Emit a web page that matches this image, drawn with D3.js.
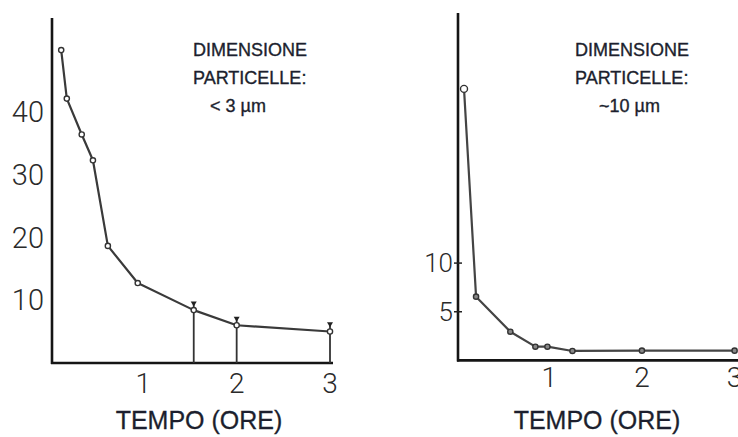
<!DOCTYPE html>
<html>
<head>
<meta charset="utf-8">
<script src="https://cdn.jsdelivr.net/npm/d3@7"></script>
<style>
  html, body { margin: 0; padding: 0; background: #fff; }
  svg { display: block; }
</style>
</head>
<body>
<svg id="chart" width="738" height="437"></svg>
<script>
// ---------- DATA ----------
// Left panel: particle size < 3 µm
const leftTime   = [0.12, 0.18, 0.34, 0.46, 0.62, 0.94, 1.54, 2.0, 3.0];
const leftValue  = [49.7, 42.0, 36.3, 32.2, 18.6, 12.7, 8.4, 6.0, 5.0];
const leftErrTime  = [1.54, 2.0, 3.0];
const leftErrUpper = [9.6, 7.2, 6.3];
const leftYTicks = [10, 20, 30, 40];
const leftXTicks = [1, 2, 3];
const leftNote   = ["DIMENSIONE", "PARTICELLE:", "< 3 µm"];

// Right panel: particle size ~10 µm
const rightTime  = [0.08, 0.21, 0.58, 0.85, 0.98, 1.25, 2.0, 3.0];
const rightValue = [27.9, 6.55, 2.95, 1.41, 1.41, 0.97, 1.0, 1.0];
const rightYTicks = [5, 10];
const rightXTicks = [1, 2, 3];
const rightNote  = ["DIMENSIONE", "PARTICELLE:", "~10 µm"];

const xTitle = "TEMPO (ORE)";

// ---------- DRAW ----------
const svg = d3.select("#chart");
const digitFont = "Roboto, 'DejaVu Sans', sans-serif";
const textFont = "'Liberation Sans', Arial, sans-serif";

function panel(cfg) {
  const x = d3.scaleLinear().domain([0, 3]).range(cfg.xRange);
  const y = d3.scaleLinear().domain(cfg.yDomain).range(cfg.yRange);
  const g = svg.append("g");

  // axes lines
  g.append("line")
    .attr("x1", cfg.axisX).attr("x2", cfg.axisX)
    .attr("y1", cfg.yRange[1]).attr("y2", y(0) + 1)
    .attr("stroke", "#151515").attr("stroke-width", 2.6);
  g.append("line")
    .attr("x1", cfg.axisX - 1).attr("x2", cfg.xAxisEnd)
    .attr("y1", y(0)).attr("y2", y(0))
    .attr("stroke", "#151515").attr("stroke-width", 2.6);

  // y tick labels
  g.selectAll(".ylab").data(cfg.yTicks).join("text")
    .attr("x", cfg.axisX - cfg.yLabelGap)
    .attr("y", d => y(d))
    .attr("dy", "0.36em")
    .attr("text-anchor", "end")
    .attr("font-family", digitFont)
    .attr("font-weight", 300)
    .attr("font-size", cfg.yFont)
    .attr("fill", "#2a2a2a")
    .text(d => d);

  if (cfg.yTickMarks) {
    g.selectAll(".ytick").data(cfg.yTicks).join("line")
      .attr("x1", cfg.axisX - 4).attr("x2", cfg.axisX + 4)
      .attr("y1", d => y(d)).attr("y2", d => y(d))
      .attr("stroke", "#222").attr("stroke-width", 1.5);
  }

  // x tick labels
  g.selectAll(".xlab").data(cfg.xTicks).join("text")
    .attr("x", d => x(d))
    .attr("y", y(0) + cfg.xLabelOffset)
    .attr("text-anchor", "middle")
    .attr("font-family", digitFont)
    .attr("font-weight", 300)
    .attr("font-size", 28)
    .attr("fill", "#2a2a2a")
    .text(d => d);

  // error bars (from axis up to upper value, with small cap)
  if (cfg.errTime) {
    cfg.errTime.forEach((t, i) => {
      const cx = x(t), top = y(cfg.errUpper[i]);
      g.append("line")
        .attr("x1", cx).attr("x2", cx)
        .attr("y1", y(0)).attr("y2", top)
        .attr("stroke", "#333").attr("stroke-width", 1.8);
      g.append("path")
        .attr("d", `M${cx - 3},${top - 1}L${cx + 3},${top - 1}L${cx},${top + 4}Z`)
        .attr("fill", "#222");
    });
  }

  // line
  const pts = cfg.time.map((t, i) => [t, cfg.value[i]]);
  g.append("path")
    .datum(pts)
    .attr("d", d3.line().x(d => x(d[0])).y(d => y(d[1])))
    .attr("fill", "none")
    .attr("stroke", cfg.lineColor)
    .attr("stroke-width", 2.2)
    .attr("stroke-linejoin", "round");

  // markers
  g.selectAll(".pt").data(pts).join("circle")
    .attr("cx", d => x(d[0])).attr("cy", d => y(d[1]))
    .attr("r", (d, i) => (i === 0 && cfg.bigFirst) ? 3.5 : 2.6)
    .attr("fill", (d, i) => (i === 0 && cfg.bigFirst) ? "#fff" : cfg.markerFill)
    .attr("stroke", "#333").attr("stroke-width", 1.4);

  // annotation
  g.selectAll(".note").data(cfg.note).join("text")
    .attr("x", (d, i) => cfg.noteX[i])
    .attr("y", (d, i) => cfg.noteY + i * 28)
    .attr("font-family", textFont)
    .attr("font-size", 18)
    .attr("fill", "#1c1f2e")
    .attr("stroke", "#1c1f2e").attr("stroke-width", 0.35)
    .text(d => d);

  // x title
  g.append("text")
    .attr("x", cfg.titleX)
    .attr("y", 429)
    .attr("text-anchor", "middle")
    .attr("font-family", textFont)
    .attr("font-size", 25)
    .attr("fill", "#1c1f2e")
    .attr("stroke", "#1c1f2e").attr("stroke-width", 0.3)
    .text(xTitle);
}

panel({
  xRange: [50, 330], yDomain: [0, 54.8], yRange: [363, 18],
  axisX: 52, xAxisEnd: 333,
  time: leftTime, value: leftValue,
  errTime: leftErrTime, errUpper: leftErrUpper,
  yTicks: leftYTicks, xTicks: leftXTicks,
  yFont: 29, yLabelGap: 8, yTickMarks: false, xLabelOffset: 30,
  lineColor: "#3a3a3a", markerFill: "#fff", bigFirst: false,
  note: leftNote, noteX: [193, 193, 210], noteY: 56,
  titleX: 199
});

panel({
  xRange: [456.6, 734.6], yDomain: [0, 35.7], yRange: [360.4, 13],
  axisX: 458, xAxisEnd: 738,
  time: rightTime, value: rightValue,
  errTime: null, errUpper: null,
  yTicks: rightYTicks, xTicks: rightXTicks,
  yFont: 26, yLabelGap: 5, yTickMarks: true, xLabelOffset: 27,
  lineColor: "#444", markerFill: "#888", bigFirst: true,
  note: rightNote, noteX: [575, 575, 599], noteY: 56,
  titleX: 597
});
</script>
</body>
</html>
